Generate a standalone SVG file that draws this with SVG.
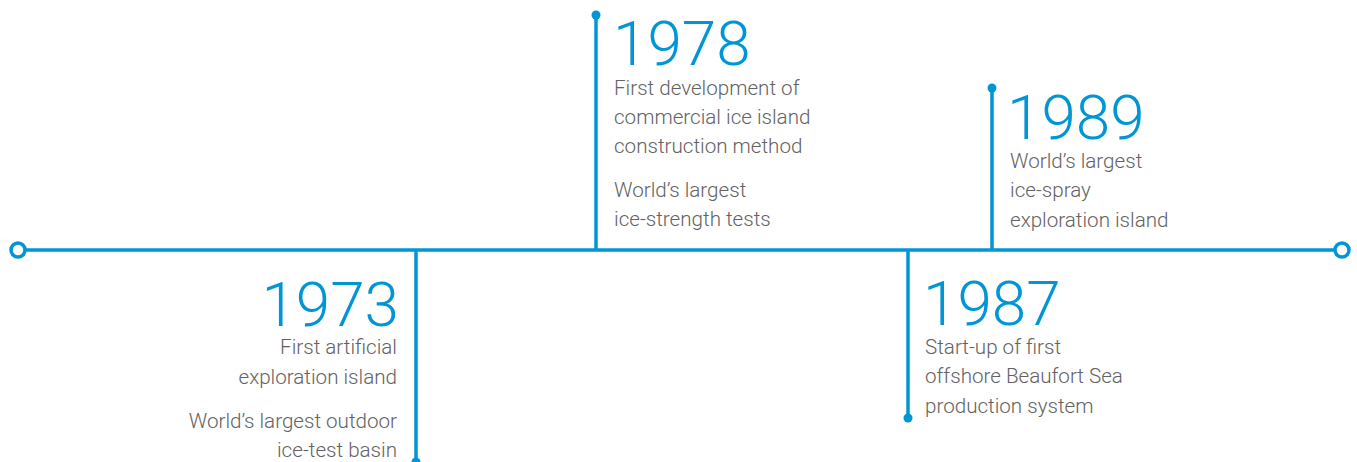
<svg xmlns="http://www.w3.org/2000/svg" width="1357" height="462" viewBox="0 0 1357 462">
<style>
.ln{stroke:#0096d6;stroke-width:3.5;fill:none}
.end{stroke:#0096d6;stroke-width:3.5;fill:#fff}
.dot{fill:#0096d6}
.yr{font-family:Roboto,"Liberation Sans",sans-serif;font-weight:300;font-size:62px;fill:#0096d6}
.tx{font-family:Roboto,"Liberation Sans",sans-serif;font-weight:300;font-size:20.6px;fill:#626262}
.r{text-anchor:end}
</style>
<rect width="1357" height="462" fill="#fff"/>
<g id="connectors">
<line class="ln" x1="25" y1="250" x2="1335" y2="250"/>
<line class="ln" x1="416" y1="250" x2="416" y2="462"/>
<line class="ln" x1="596" y1="15" x2="596" y2="250"/>
<line class="ln" x1="908" y1="250" x2="908" y2="418"/>
<line class="ln" x1="992" y1="88" x2="992" y2="250"/>
<circle class="end" cx="18" cy="250" r="7"/>
<circle class="end" cx="1342" cy="250" r="7"/>
<circle class="dot" cx="416" cy="462" r="4.5"/>
<circle class="dot" cx="596" cy="15" r="4.5"/>
<circle class="dot" cx="908" cy="418" r="4.5"/>
<circle class="dot" cx="992" cy="88" r="4.5"/>
</g>
<g id="n1973">
<text class="yr r" x="399" y="326">1973</text>
<text class="tx r" x="397" y="354">First artificial</text>
<text class="tx r" x="397" y="384">exploration island</text>
<text class="tx r" x="397" y="428">World’s largest outdoor</text>
<text class="tx r" x="397" y="457">ice-test basin</text>
</g>
<g id="n1978">
<text class="yr" x="613" y="65">1978</text>
<text class="tx" x="614" y="95">First development of</text>
<text class="tx" x="614" y="124">commercial ice island</text>
<text class="tx" x="614" y="153">construction method</text>
<text class="tx" x="614" y="197">World’s largest</text>
<text class="tx" x="614" y="226">ice-strength tests</text>
</g>
<g id="n1987">
<text class="yr" x="923" y="325">1987</text>
<text class="tx" x="925" y="354">Start-up of first</text>
<text class="tx" x="925" y="383">offshore Beaufort Sea</text>
<text class="tx" x="925" y="413">production system</text>
</g>
<g id="n1989">
<text class="yr" x="1007" y="139">1989</text>
<text class="tx" x="1010" y="168">World’s largest</text>
<text class="tx" x="1010" y="197">ice-spray</text>
<text class="tx" x="1010" y="227">exploration island</text>
</g>
</svg>
